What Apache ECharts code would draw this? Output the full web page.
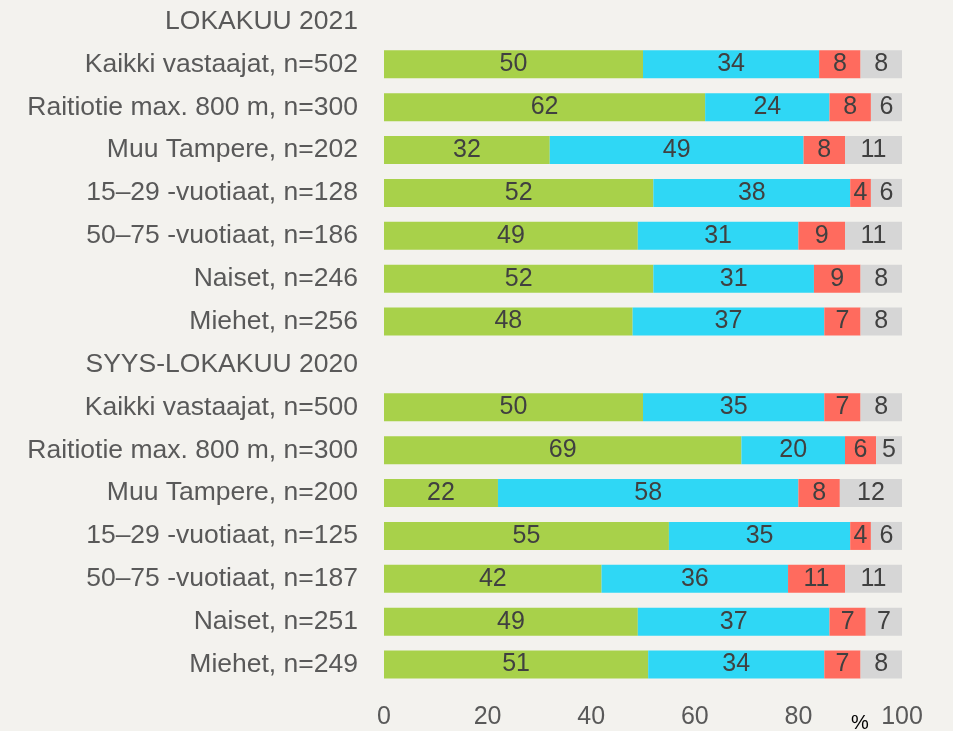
<!DOCTYPE html>
<html><head><meta charset="utf-8">
<script src="https://cdn.jsdelivr.net/npm/echarts@6/dist/echarts.min.js"></script>
<style>html,body{margin:0;padding:0;background:#F3F2EE;}#c{width:953px;height:731px;}</style>
</head><body><div id="c"></div>
<script>
const categories = [
  'LOKAKUU 2021',
  'Kaikki vastaajat, n=502',
  'Raitiotie max. 800 m, n=300',
  'Muu Tampere, n=202',
  '15–29 -vuotiaat, n=128',
  '50–75 -vuotiaat, n=186',
  'Naiset, n=246',
  'Miehet, n=256',
  'SYYS-LOKAKUU 2020',
  'Kaikki vastaajat, n=500',
  'Raitiotie max. 800 m, n=300',
  'Muu Tampere, n=200',
  '15–29 -vuotiaat, n=125',
  '50–75 -vuotiaat, n=187',
  'Naiset, n=251',
  'Miehet, n=249'
];
const greenVals = ['-',50,62,32,52,49,52,48,'-',50,69,22,55,42,49,51];
const cyanVals  = ['-',34,24,49,38,31,31,37,'-',35,20,58,35,36,37,34];
const redVals   = ['-',8,8,8,4,9,9,7,'-',7,6,8,4,11,7,7];
const greyVals  = ['-',8,6,11,6,11,8,8,'-',8,5,12,6,11,7,8];
const xTicks = [0,20,40,60,80,100];

const colors = ['#A8D14A','#2FD7F5','#FF6B5E','#D6D6D6'];
const font = 'Liberation Sans, Arial, sans-serif';
function mk(name, data, color){
  return {
    name, type:'bar', stack:'all', data, barWidth: 28,
    itemStyle:{color},
    label:{show:true, position:'inside', color:'#404040', fontSize:25, fontFamily:font}
  };
}
const chart = echarts.init(document.getElementById('c'));
chart.setOption({
  backgroundColor:'#F3F2EE',
  animation:false,
  grid:{left:384, right:51, top:-3.5, bottom:45, containLabel:false},
  xAxis:{type:'value', min:0, max:100, interval:20,
    axisLine:{show:false}, axisTick:{show:false}, splitLine:{show:false},
    axisLabel:{color:'#595959', fontSize:25, fontFamily:font, margin:19,
      formatter:v => xTicks.includes(v) ? String(v) : ''}},
  yAxis:{type:'category', data:categories, inverse:true,
    axisLine:{show:false}, axisTick:{show:false},
    axisLabel:{color:'#595959', fontSize:26.5, fontFamily:font, margin:26}},
  series:[
    mk('a', greenVals, colors[0]),
    mk('b', cyanVals, colors[1]),
    mk('c', redVals, colors[2]),
    mk('d', greyVals, colors[3])
  ],
  graphic:[{type:'text', left:851, top:713, style:{text:'%', fill:'#000', fontSize:20, fontFamily:font}}]
});
</script></body></html>
